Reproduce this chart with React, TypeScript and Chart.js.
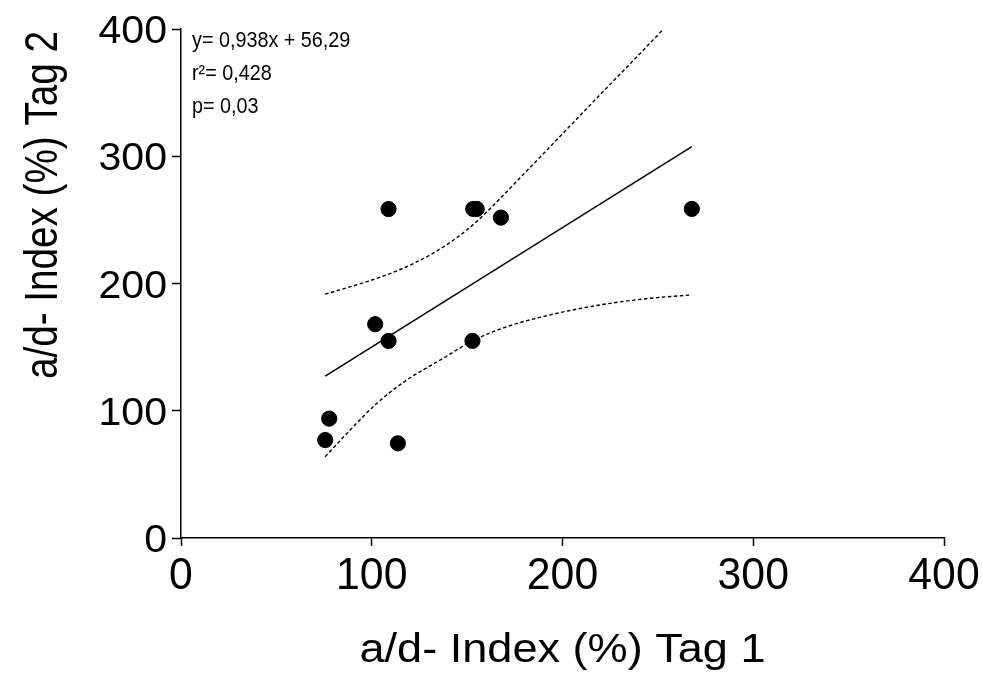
import React, { useEffect, useRef } from "react";
import { Chart, registerables } from "chart.js";

Chart.register(...registerables);

// Scatter data (a/d-Index Tag 1 vs Tag 2)
const X_VALUES = [108.8, 153.2, 155.0, 167.7, 267.8, 101.8, 108.8, 152.8, 77.7, 75.6, 113.7];
const Y_VALUES = [258.5, 258.6, 258.6, 251.8, 258.6, 168.0, 154.9, 154.9, 93.8, 77.0, 74.4];

// Regression line end points
const FIT_X = [75.6, 267.8];
const FIT_Y = [127.2, 307.5];

// 95% confidence band
const UPPER_X = [75.6, 97.5, 114.9, 132.4, 146.4, 155.2, 167.4, 180.0, 193.5, 206.0, 219.8, 236.0, 253.0];
const UPPER_Y = [191.6, 201.5, 211.0, 224.0, 238.0, 249.0, 267.0, 286.5, 307.5, 327.0, 348.5, 373.5, 400.0];
const LOWER_X = [75.6, 88.7, 102.7, 118.4, 136.0, 152.8, 170.9, 193.5, 219.8, 246.0, 267.8];
const LOWER_Y = [63.9, 84.9, 105.9, 124.2, 139.9, 154.9, 166.1, 175.3, 183.2, 188.4, 191.0];

// Tick labels and texts
const X_TICKS = [0, 100, 200, 300, 400];
const Y_TICKS = [0, 100, 200, 300, 400];
const X_TITLE = "a/d- Index (%) Tag 1";
const Y_TITLE = "a/d- Index (%) Tag 2";
const ANNOTATION = ["y= 0,938x + 56,29", "r²= 0,428", "p= 0,03"];

const FONT = '"Liberation Sans", Arial, Helvetica, sans-serif';

function drawText(
  ctx: CanvasRenderingContext2D,
  text: string,
  x: number,
  y: number,
  size: number,
  stretch: number,
  align: CanvasTextAlign,
  rotation = 0
) {
  ctx.save();
  ctx.translate(x, y);
  if (rotation) ctx.rotate(rotation);
  ctx.scale(stretch, 1);
  ctx.font = `${size}px ${FONT}`;
  ctx.textAlign = align;
  ctx.textBaseline = "alphabetic";
  ctx.fillStyle = "#000";
  ctx.fillText(text, 0, 0);
  ctx.restore();
}

const textPlugin = {
  id: "stretchedText",
  afterDraw(chart: any) {
    const { ctx, chartArea } = chart;
    const xs = chart.scales.x;
    const ys = chart.scales.y;
    // y tick labels
    Y_TICKS.forEach((v) => {
      const py = ys.getPixelForValue(v);
      drawText(ctx, String(v), chartArea.left - 14, py + 14, 38, 1.08, "right");
    });
    // x tick labels
    X_TICKS.forEach((v) => {
      const px = xs.getPixelForValue(v);
      drawText(ctx, String(v), px, chartArea.bottom + 51, 45, 0.95, "center");
    });
    // x title
    drawText(ctx, X_TITLE, (chartArea.left + chartArea.right) / 2, 662, 41, 1.1, "center");
    // y title (rotated)
    drawText(ctx, Y_TITLE, 57, 205, 46, 0.84, "center", -Math.PI / 2);
    // annotation
    ANNOTATION.forEach((line, i) => {
      drawText(ctx, line, chartArea.left + 11, 47 + i * 33, 21.5, 0.92, "left");
    });
  },
};

export default function App() {
  const canvasRef = useRef<HTMLCanvasElement | null>(null);

  useEffect(() => {
    if (!canvasRef.current) return;
    const points = X_VALUES.map((x, i) => ({ x, y: Y_VALUES[i] }));
    const fit = FIT_X.map((x, i) => ({ x, y: FIT_Y[i] }));
    const upper = UPPER_X.map((x, i) => ({ x, y: UPPER_Y[i] }));
    const lower = LOWER_X.map((x, i) => ({ x, y: LOWER_Y[i] }));

    const chart = new Chart(canvasRef.current, {
      type: "scatter",
      data: {
        datasets: [
          {
            label: "Daten",
            data: points,
            pointRadius: 7.6,
            pointBackgroundColor: "#000",
            pointBorderColor: "#000",
            pointBorderWidth: 1,
            showLine: false,
          },
          {
            label: "Regression",
            data: fit,
            showLine: true,
            borderColor: "#000",
            borderWidth: 1.5,
            pointRadius: 0,
          },
          {
            label: "KI oben",
            data: upper,
            showLine: true,
            borderColor: "#000",
            borderWidth: 1.4,
            borderDash: [3.5, 2.5],
            pointRadius: 0,
            cubicInterpolationMode: "monotone",
          },
          {
            label: "KI unten",
            data: lower,
            showLine: true,
            borderColor: "#000",
            borderWidth: 1.4,
            borderDash: [3.5, 2.5],
            pointRadius: 0,
            cubicInterpolationMode: "monotone",
          },
        ] as any,
      },
      options: {
        animation: false,
        responsive: false,
        layout: { padding: { left: 172, right: 38, top: 29, bottom: 127 } },
        plugins: { legend: { display: false }, tooltip: { enabled: false } },
        scales: {
          x: {
            type: "linear",
            min: 0,
            max: 400,
            ticks: { stepSize: 100, display: false },
            grid: {
              drawOnChartArea: false,
              drawTicks: true,
              tickLength: 8,
              tickColor: "#000",
              tickWidth: 1.5,
            },
            border: { display: true, color: "#000", width: 1.5 },
          },
          y: {
            type: "linear",
            min: 0,
            max: 400,
            ticks: { stepSize: 100, display: false },
            grid: {
              drawOnChartArea: false,
              drawTicks: true,
              tickLength: 9,
              tickColor: "#000",
              tickWidth: 1.5,
            },
            border: { display: true, color: "#000", width: 1.5 },
          },
        },
      },
      plugins: [textPlugin],
    });
    return () => chart.destroy();
  }, []);

  return (
    <div style={{ position: "fixed", left: 0, top: 0, width: 982, height: 673, background: "#fff" }}>
      <canvas ref={canvasRef} width={982} height={673} style={{ display: "block" }} />
    </div>
  );
}
